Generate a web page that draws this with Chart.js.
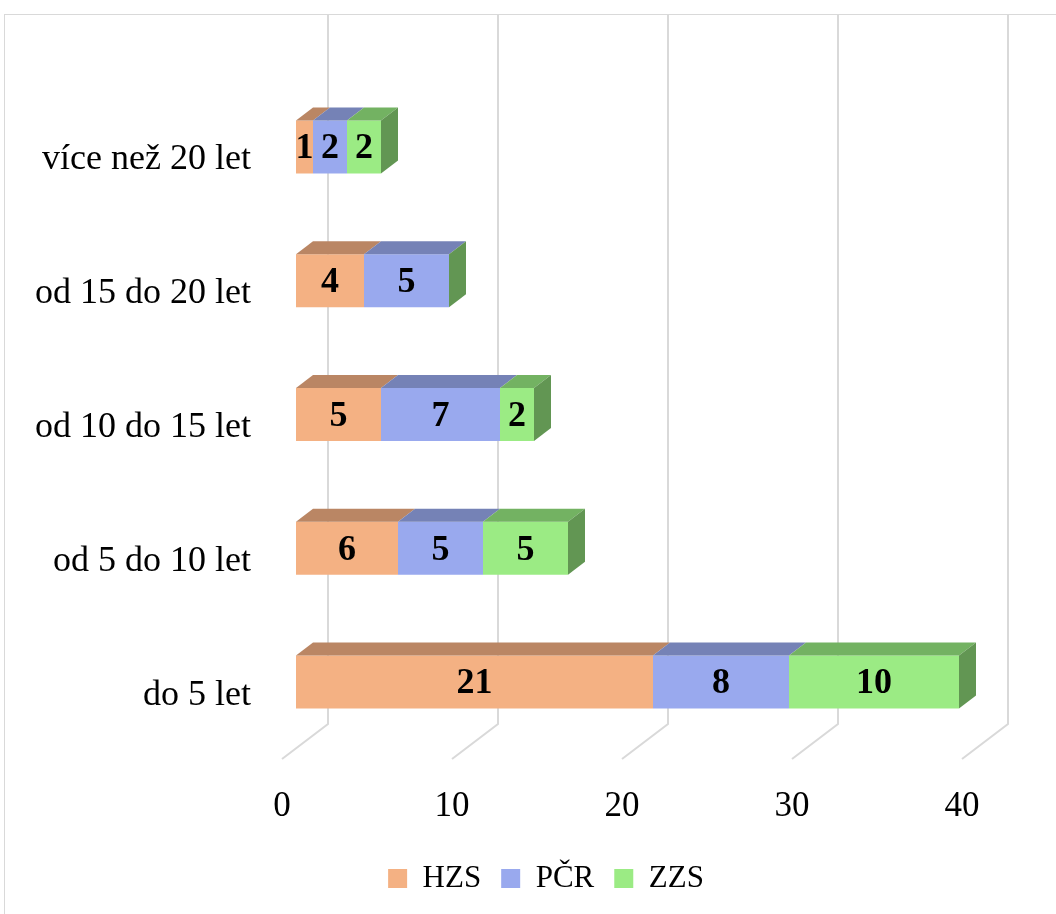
<!DOCTYPE html>
<html>
<head>
<meta charset="utf-8">
<script src="https://cdn.jsdelivr.net/npm/chart.js@4.4.1/dist/chart.umd.min.js"></script>
<style>
  html, body { margin: 0; padding: 0; background: #fff; overflow: hidden; }
  #frame { position: absolute; left: 4px; top: 14px; width: 1100px; height: 960px;
           border: 1px solid #d9d9d9; box-sizing: border-box; }
  #wrap { position: absolute; left: 0; top: 0; width: 1056px; }
</style>
</head>
<body>
<div id="frame"></div>
<div id="wrap"><canvas id="c" width="1056" height="914"></canvas></div>
<script>
// Length of service, by organisation
const categories = ['více než 20 let', 'od 15 do 20 let', 'od 10 do 15 let', 'od 5 do 10 let', 'do 5 let'];
const hzs = [1, 4, 5, 6, 21];
const pcr = [2, 5, 7, 5, 8];
const zzs = [2, 0, 2, 5, 10];
const seriesNames = ['HZS', 'PČR', 'ZZS'];
const xTicks = [0, 10, 20, 30, 40];

const FONT = "'Liberation Serif', 'Times New Roman', serif";
const frontColors = ['#F4B183', '#99A9EE', '#9BEB84'];
const topColors   = ['#BA8664', '#7582B6', '#73B262'];
const sideColors  = ['#9A6E52', '#606B96', '#629653'];

// pseudo-3D geometry: bar depth and back wall offset
const DX = 17, DY = 13;
const WALL_DX = 32, FLOOR_DX = -14, WALL_TOP = 15, WALL_BOTTOM = 724, FLOOR_Y = 759;
const LEGEND_SHIFT = 58;

const threeD = {
  id: 'threeD',
  afterLayout(chart) {
    // centre the legend under the whole frame rather than the plot
    const lg = chart.legend;
    if (lg) { lg.left += LEGEND_SHIFT; lg.right += LEGEND_SHIFT; }
  },
  beforeDatasetsDraw(chart) {
    const ctx = chart.ctx;
    const xs = chart.scales.x;
    ctx.save();
    ctx.strokeStyle = '#D9D9D9';
    ctx.lineWidth = 2;
    xTicks.forEach(v => {
      const px = xs.getPixelForValue(v);
      ctx.beginPath();
      ctx.moveTo(px + WALL_DX, WALL_TOP);
      ctx.lineTo(px + WALL_DX, WALL_BOTTOM);
      ctx.lineTo(px + FLOOR_DX, FLOOR_Y);
      ctx.stroke();
    });
    ctx.restore();
  },
  afterDatasetsDraw(chart) {
    const ctx = chart.ctx;
    const metas = chart.data.datasets.map((d, i) => chart.getDatasetMeta(i));
    ctx.save();
    categories.forEach((c, j) => {
      let last = null;
      metas.forEach((m, i) => {
        const p = m.data[j].getProps(['x', 'base', 'y', 'height'], true);
        const top = p.y - p.height / 2, bot = p.y + p.height / 2;
        if (p.x > p.base) {
          ctx.fillStyle = topColors[i];
          ctx.beginPath();
          ctx.moveTo(p.base, top);
          ctx.lineTo(p.x, top);
          ctx.lineTo(p.x + DX, top - DY);
          ctx.lineTo(p.base + DX, top - DY);
          ctx.closePath();
          ctx.fill();
        }
        last = { i, x: p.x, top, bot };
      });
      ctx.fillStyle = sideColors[last.i];
      ctx.beginPath();
      ctx.moveTo(last.x, last.top);
      ctx.lineTo(last.x + DX, last.top - DY);
      ctx.lineTo(last.x + DX, last.bot - DY);
      ctx.lineTo(last.x, last.bot);
      ctx.closePath();
      ctx.fill();
    });
    // value labels on the front faces
    ctx.fillStyle = '#000';
    ctx.font = 'bold 36px ' + FONT;
    ctx.textAlign = 'center';
    ctx.textBaseline = 'middle';
    metas.forEach((m, i) => {
      m.data.forEach((el, j) => {
        const v = chart.data.datasets[i].data[j];
        if (!v) return;
        const p = el.getProps(['x', 'base', 'y'], true);
        ctx.fillText(String(v), (p.x + p.base) / 2, p.y + 2);
      });
    });
    ctx.restore();
  }
};

new Chart(document.getElementById('c'), {
  type: 'bar',
  data: {
    labels: categories,
    datasets: [
      { label: seriesNames[0], data: hzs, backgroundColor: frontColors[0] },
      { label: seriesNames[1], data: pcr, backgroundColor: frontColors[1] },
      { label: seriesNames[2], data: zzs, backgroundColor: frontColors[2] }
    ]
  },
  options: {
    indexAxis: 'y',
    responsive: false,
    animation: false,
    devicePixelRatio: 1,
    categoryPercentage: 1,
    barPercentage: 0.396,
    borderWidth: 0,
    layout: { padding: { left: 0, right: 80, top: 80, bottom: 10 } },
    font: { family: FONT },
    scales: {
      x: {
        type: 'linear',
        stacked: true,
        min: 0, max: 40,
        grid: { display: false, drawTicks: false },
        border: { display: false },
        ticks: { stepSize: 10, labelOffset: FLOOR_DX, padding: 37, color: '#000',
                 font: { family: FONT, size: 35 } },
        afterFit(s) { s.height = 94; }
      },
      y: {
        stacked: true,
        grid: { display: false, drawTicks: false },
        border: { display: false },
        ticks: { padding: 45, labelOffset: 13, color: '#000',
                 font: { family: FONT, size: 36 } },
        afterFit(s) { s.width = 296; }
      }
    },
    plugins: {
      legend: {
        position: 'bottom',
        labels: { boxWidth: 19, boxHeight: 19, padding: 20, color: '#000',
                  font: { family: FONT, size: 31 } }
      },
      tooltip: { enabled: false }
    }
  },
  plugins: [threeD]
});
</script>
</body>
</html>
